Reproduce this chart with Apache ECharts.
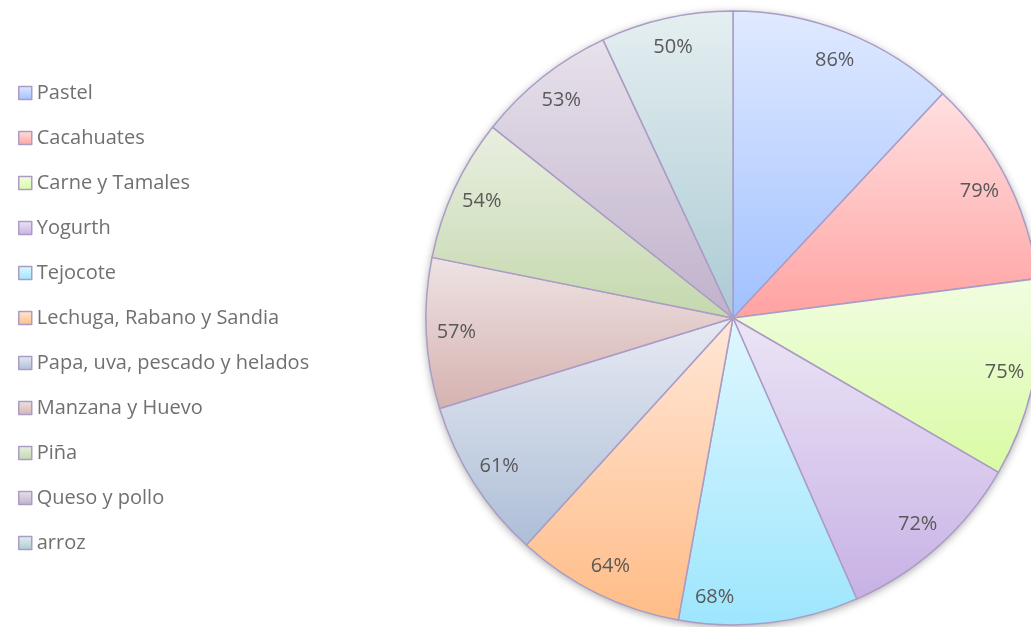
<!DOCTYPE html>
<html>
  <head>
    <meta charset="utf-8" />
    <title>Pie</title>
    <script src="https://cdn.jsdelivr.net/npm/echarts@6.0.0/dist/echarts.min.js"></script>
    <style>body { margin: 0; }</style>
  </head>
  <body>
    <div id="main" style="width: 1031px;height:627px;"></div>

    <script type="text/javascript">
      var myPie = echarts.init(document.getElementById('main'));

      // data
      var names = ['Pastel', 'Cacahuates', 'Carne y Tamales', 'Yogurth', 'Tejocote',
        'Lechuga, Rabano y Sandia', 'Papa, uva, pescado y helados', 'Manzana y Huevo',
        'Piña', 'Queso y pollo', 'arroz'];
      var values = [86, 79, 75, 72, 68, 64, 61, 57, 54, 53, 50];
      var topColors = ['#e0eaff', '#ffe0e1', '#f1fde1', '#ece5f6', '#e0f7ff', '#ffe7d8',
        '#e7eaf3', '#eee3e3', '#e9efe1', '#e8e2eb', '#e5eff1'];
      var bottomColors = ['#a0c0ff', '#ffa2a1', '#d9fba4', '#c7b1e5', '#9de6fd', '#ffbc86',
        '#adbed7', '#d5b2b0', '#c4d8ad', '#bfb1cb', '#abcad4'];

      // the original moved the Tejocote label a bit to the left
      var labelNudge = { 4: [-51, 4] };

      var pieData = [];
      var labelData = [];
      for (var i = 0; i < names.length; i++) {
        pieData.push({
          name: names[i],
          value: values[i],
          itemStyle: {
            color: new echarts.graphic.LinearGradient(0, 0, 0, 1, [
              { offset: 0, color: topColors[i] },
              { offset: 1, color: bottomColors[i] }
            ])
          }
        });
        var item = { name: names[i], value: values[i] };
        if (labelNudge[i]) item.label = { offset: labelNudge[i] };
        labelData.push(item);
      }

      var option = {
        animation: false,
        legend: {
          data: names,
          orient: 'vertical',
          left: 13,
          top: 77,
          itemWidth: 13,
          itemHeight: 13,
          itemGap: 23,
          icon: 'rect',
          itemStyle: { borderColor: '#ab9cc6', borderWidth: 1.5 },
          textStyle: { color: '#707070', fontSize: 20, fontFamily: 'Open Sans', lineHeight: 22 }
        },
        series: [
          {
            // backing disc for the soft shadow
            type: 'pie',
            silent: true,
            center: [733, 318],
            radius: 307,
            z: 1,
            label: { show: false },
            itemStyle: {
              color: '#ffffff',
              shadowBlur: 8,
              shadowOffsetY: 2,
              shadowColor: 'rgba(0,0,0,0.35)'
            },
            data: [{ value: 1, name: '' }]
          },
          {
            type: 'pie',
            center: [733, 318],
            radius: 307,
            startAngle: 90,
            z: 2,
            label: { show: false },
            labelLine: { show: false },
            itemStyle: { borderColor: '#ab9cc6', borderWidth: 1.5 },
            data: pieData
          },
          {
            // transparent ring that only carries the labels
            type: 'pie',
            silent: true,
            center: [733, 318],
            radius: [241, 307],
            startAngle: 90,
            z: 3,
            itemStyle: { color: 'rgba(0,0,0,0)', borderWidth: 0 },
            label: {
              show: true,
              position: 'inside',
              formatter: '{c}%',
              color: '#595959',
              fontSize: 20,
              fontFamily: 'Open Sans'
            },
            labelLine: { show: false },
            data: labelData
          }
        ]
      };

      myPie.setOption(option);
    </script>
  </body>
</html>
